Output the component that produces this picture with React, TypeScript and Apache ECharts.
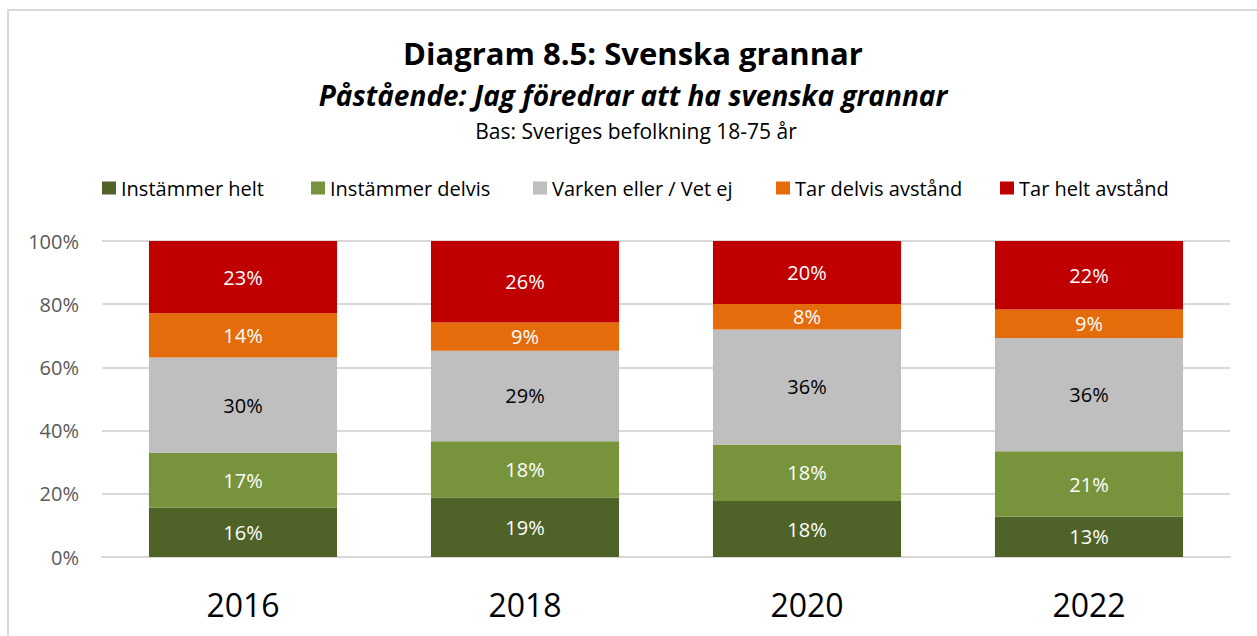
import React, { useEffect, useRef } from "react";
import * as echarts from "echarts";

const years = ["2016", "2018", "2020", "2022"];
const seriesNames = [
  "Instämmer helt",
  "Instämmer delvis",
  "Varken eller / Vet ej",
  "Tar delvis avstånd",
  "Tar helt avstånd",
];
const instammerHelt = [15.7, 18.8, 17.7, 12.7];
const instammerDelvis = [17.2, 17.8, 17.9, 20.8];
const varkenEller = [30.2, 28.7, 36.4, 35.8];
const tarDelvis = [14.0, 8.9, 8.1, 9.0];
const tarHelt = [22.9, 25.8, 19.9, 21.7];
const yTicks = [0, 20, 40, 60, 80, 100];

const titleText = "Diagram 8.5: Svenska grannar";
const subtitleText = "Påstående: Jag föredrar att ha svenska grannar";
const baseText = "Bas: Sveriges befolkning 18-75 år";

const colors = ["#4F6228", "#77933C", "#BFBFBF", "#E46C0A", "#C00000"];
const labelColors = ["#FFFFFF", "#FFFFFF", "#000000", "#FFFFFF", "#FFFFFF"];
const legendLefts = [102, 311, 533, 776, 1000];
const FONT = "'Open Sans', 'Noto Sans', sans-serif";

export default function App() {
  const ref = useRef<HTMLDivElement>(null);
  useEffect(() => {
    if (!ref.current) return;
    const chart = echarts.init(ref.current, undefined, { renderer: "svg" });
    const values = [instammerHelt, instammerDelvis, varkenEller, tarDelvis, tarHelt];
    const option: any = {
      animation: false,
      backgroundColor: "#ffffff",
      textStyle: { fontFamily: FONT },
      title: [
        {
          text: titleText,
          left: 633,
          top: 53,
          padding: 0,
          textAlign: "center",
          textVerticalAlign: "middle",
          textStyle: { fontFamily: FONT, fontSize: 31, fontWeight: "bold", color: "#000" },
        },
        {
          text: subtitleText,
          left: 633,
          top: 95,
          padding: 0,
          textAlign: "center",
          textVerticalAlign: "middle",
          textStyle: { fontFamily: FONT, fontSize: 28, fontWeight: "bold", fontStyle: "italic", color: "#000" },
        },
        {
          text: baseText,
          left: 636,
          top: 131,
          padding: 0,
          textAlign: "center",
          textVerticalAlign: "middle",
          textStyle: { fontFamily: FONT, fontSize: 21, fontWeight: "normal", color: "#000" },
        },
      ],
      legend: seriesNames.map((n, i) => ({
        data: [n],
        left: legendLefts[i],
        top: 178,
        padding: 0,
        itemWidth: 14,
        itemHeight: 13,
        icon: "rect",
        selectedMode: false,
        textStyle: { fontFamily: FONT, fontSize: 20, color: "#000" },
      })),
      graphic: [
        {
          type: "rect",
          shape: { x: 8, y: 10, width: 1400, height: 800 },
          style: { fill: "none", stroke: "#d9d9d9", lineWidth: 2 },
          silent: true,
          z: -1,
        },
      ],
      grid: { left: 102, right: 27, top: 241, bottom: 79, containLabel: false },
      xAxis: {
        type: "category",
        data: years,
        axisLine: { show: true, lineStyle: { color: "#d9d9d9", width: 2 } },
        axisTick: { show: false },
        axisLabel: { fontFamily: FONT, fontSize: 32, color: "#000", margin: 31 },
      },
      yAxis: {
        type: "value",
        min: yTicks[0],
        max: yTicks[yTicks.length - 1],
        interval: 20,
        axisLine: { show: false },
        axisTick: { show: false },
        axisLabel: {
          fontFamily: FONT,
          fontSize: 20,
          color: "#595959",
          margin: 23,
          formatter: "{value}%",
        },
        splitLine: { lineStyle: { color: "#d9d9d9", width: 2 } },
      },
      series: seriesNames.map((n, i) => ({
        name: n,
        type: "bar",
        stack: "total",
        barCategoryGap: "33.3%",
        data: values[i],
        itemStyle: { color: colors[i] },
        label: {
          show: true,
          position: "inside",
          fontFamily: FONT,
          fontSize: 20,
          color: labelColors[i],
          formatter: (p: any) => Math.round(p.value) + "%",
        },
      })),
    };
    chart.setOption(option);
    return () => chart.dispose();
  }, []);
  return (
    <div
      ref={ref}
      style={{ position: "fixed", left: 0, top: 0, width: 1257, height: 636 }}
    />
  );
}
